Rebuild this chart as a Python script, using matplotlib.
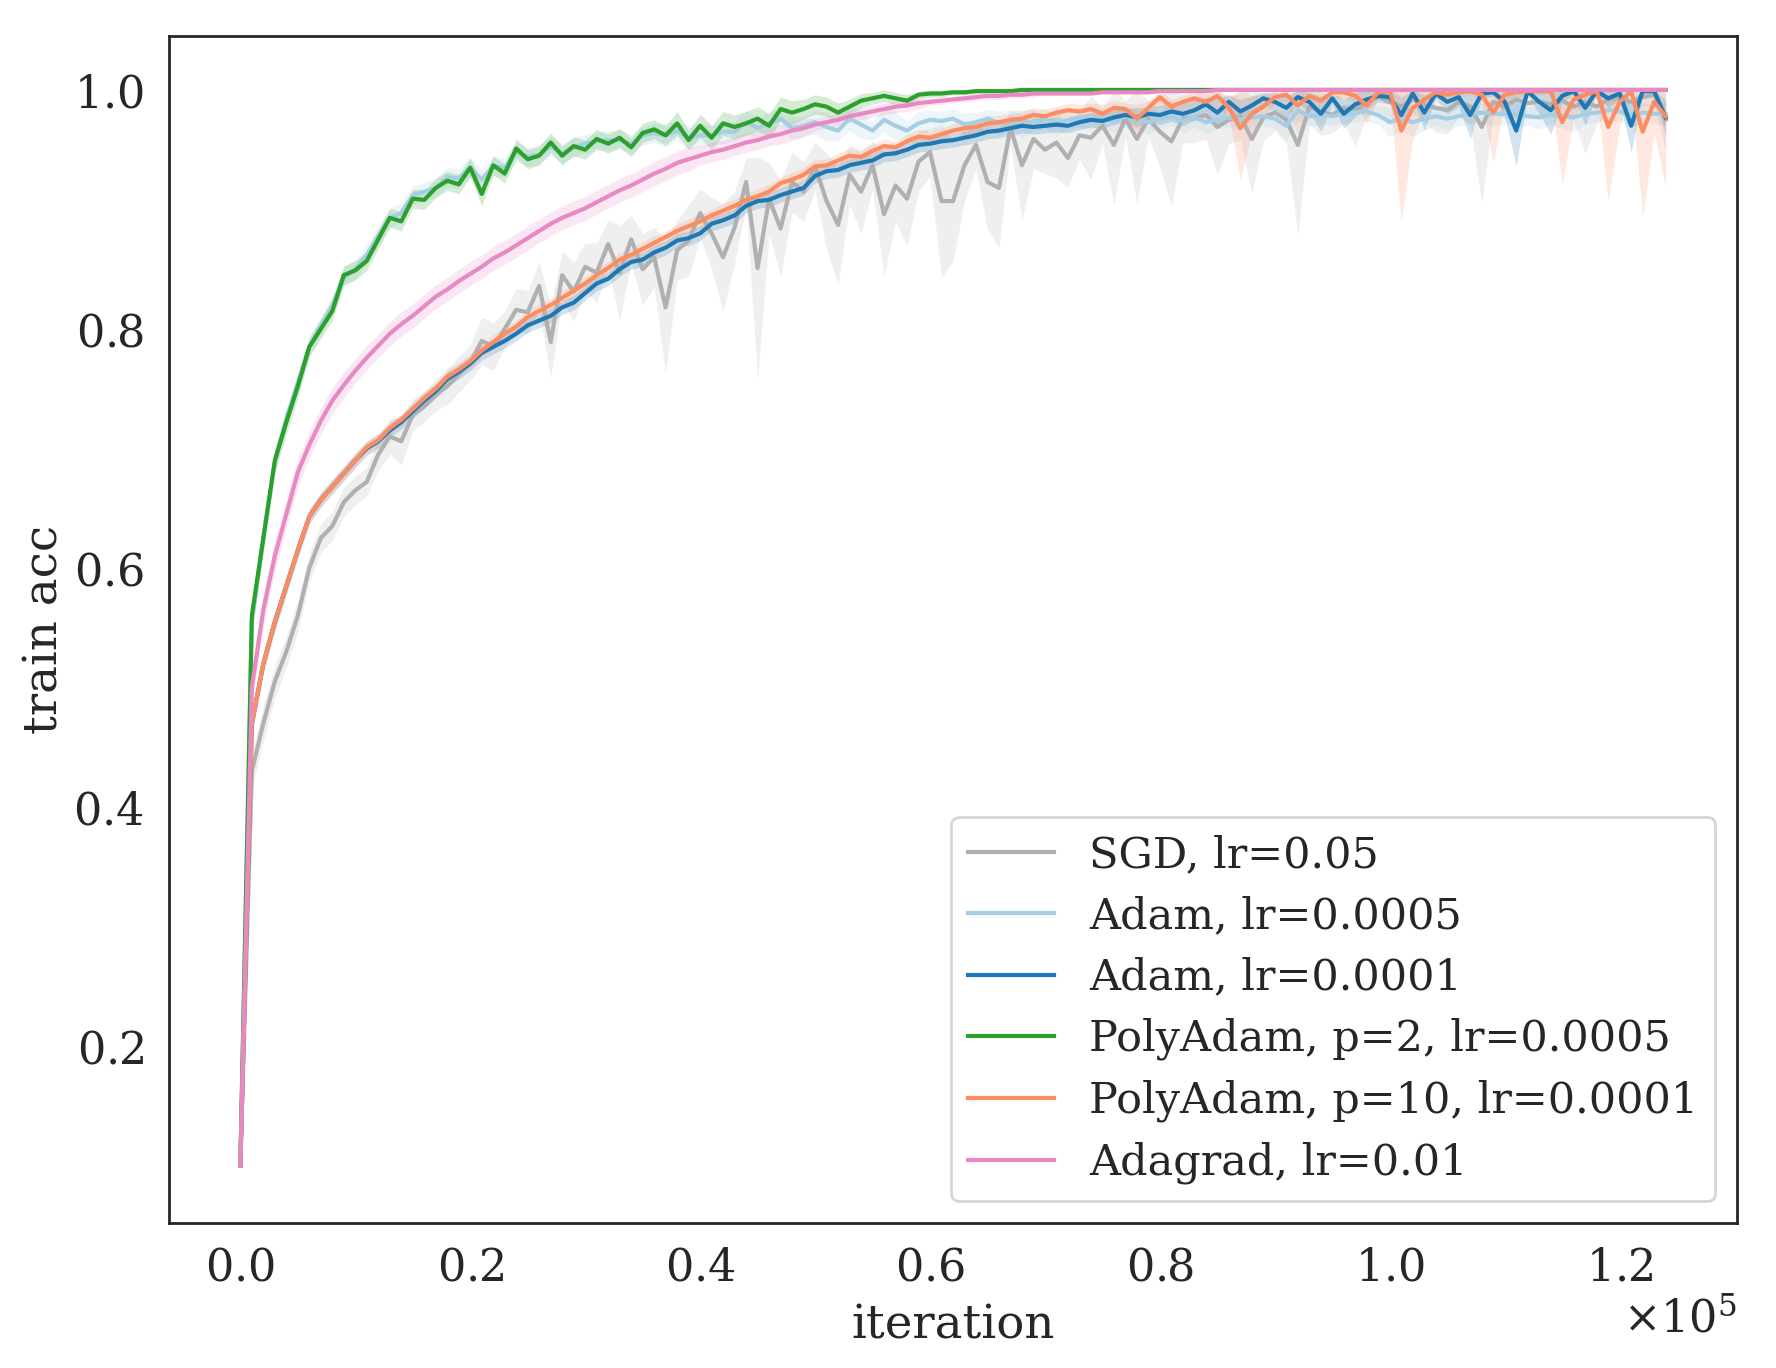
import numpy as np
import matplotlib as mpl
mpl.use('Agg')
from matplotlib import pyplot as plt

# iterations (every 1000 steps)
iters = np.arange(0, 125000, 1000)

# mean train acc
sgd = [0.100, 0.430, 0.470, 0.505, 0.530, 0.560, 0.600, 0.625, 0.635, 0.655,
       0.665, 0.672, 0.695, 0.710, 0.706, 0.728, 0.735, 0.745, 0.752, 0.762,
       0.772, 0.790, 0.785, 0.800, 0.816, 0.814, 0.836, 0.789, 0.845, 0.831,
       0.852, 0.847, 0.871, 0.847, 0.875, 0.850, 0.860, 0.818, 0.866, 0.874,
       0.897, 0.880, 0.860, 0.885, 0.923, 0.851, 0.909, 0.884, 0.923, 0.915,
       0.936, 0.907, 0.887, 0.929, 0.915, 0.937, 0.896, 0.920, 0.909, 0.940,
       0.948, 0.907, 0.907, 0.937, 0.954, 0.923, 0.918, 0.968, 0.937, 0.959,
       0.950, 0.956, 0.943, 0.962, 0.960, 0.970, 0.954, 0.976, 0.959, 0.976,
       0.965, 0.957, 0.976, 0.976, 0.979, 0.969, 0.975, 0.978, 0.959, 0.977,
       0.981, 0.975, 0.954, 0.986, 0.982, 0.979, 0.985, 0.983, 0.990, 0.994,
       0.990, 0.986, 0.992, 0.988, 0.985, 0.983, 0.990, 0.986, 0.969, 0.990,
       0.986, 0.992, 0.989, 0.990, 0.988, 0.991, 0.986, 0.990, 0.986, 0.992,
       0.993, 0.990, 0.994, 0.996, 0.975]
adam_5e4 = [0.100, 0.555, 0.625, 0.688, 0.725, 0.755, 0.785, 0.803, 0.820, 0.843,
            0.850, 0.862, 0.878, 0.893, 0.897, 0.912, 0.915, 0.918, 0.927, 0.926,
            0.935, 0.925, 0.936, 0.935, 0.948, 0.944, 0.946, 0.953, 0.947, 0.952,
            0.955, 0.957, 0.958, 0.958, 0.955, 0.962, 0.964, 0.962, 0.966, 0.960,
            0.962, 0.962, 0.965, 0.965, 0.973, 0.968, 0.972, 0.976, 0.968, 0.970,
            0.973, 0.969, 0.966, 0.976, 0.971, 0.966, 0.975, 0.970, 0.966, 0.972,
            0.975, 0.974, 0.976, 0.971, 0.973, 0.976, 0.972, 0.975, 0.970, 0.974,
            0.976, 0.972, 0.975, 0.977, 0.975, 0.977, 0.974, 0.978, 0.975, 0.973,
            0.976, 0.978, 0.974, 0.977, 0.973, 0.975, 0.977, 0.975, 0.977, 0.978,
            0.976, 0.970, 0.983, 0.978, 0.979, 0.978, 0.980, 0.981, 0.982, 0.979,
            0.973, 0.976, 0.973, 0.976, 0.978, 0.976, 0.978, 0.980, 0.981, 0.980,
            0.980, 0.979, 0.978, 0.977, 0.979, 0.978, 0.977, 0.980, 0.981, 0.983,
            0.982, 0.979, 0.981, 0.980, 0.980]
adam_1e4 = [0.100, 0.470, 0.520, 0.555, 0.585, 0.615, 0.643, 0.657, 0.668, 0.679,
            0.690, 0.700, 0.706, 0.715, 0.722, 0.731, 0.740, 0.748, 0.758, 0.764,
            0.771, 0.780, 0.785, 0.790, 0.796, 0.803, 0.807, 0.811, 0.818, 0.822,
            0.830, 0.838, 0.842, 0.850, 0.856, 0.858, 0.864, 0.868, 0.874, 0.876,
            0.880, 0.888, 0.891, 0.895, 0.903, 0.907, 0.908, 0.912, 0.915, 0.918,
            0.928, 0.932, 0.933, 0.937, 0.939, 0.941, 0.946, 0.947, 0.950, 0.954,
            0.955, 0.957, 0.958, 0.960, 0.962, 0.965, 0.966, 0.968, 0.970, 0.969,
            0.970, 0.971, 0.970, 0.973, 0.975, 0.974, 0.977, 0.979, 0.977, 0.980,
            0.979, 0.982, 0.980, 0.983, 0.988, 0.981, 0.990, 0.982, 0.987, 0.993,
            0.990, 0.985, 0.994, 0.990, 0.980, 0.993, 0.980, 0.988, 0.992, 0.995,
            0.994, 0.979, 0.997, 0.981, 0.997, 0.990, 0.994, 0.979, 0.997, 0.998,
            0.990, 0.966, 0.999, 0.990, 0.983, 0.995, 0.999, 0.985, 0.999, 0.993,
            0.997, 0.970, 0.999, 0.999, 0.977]
poly_p2 = [0.100, 0.560, 0.625, 0.690, 0.722, 0.752, 0.785, 0.800, 0.815, 0.845,
           0.849, 0.857, 0.875, 0.893, 0.890, 0.909, 0.908, 0.918, 0.924, 0.921,
           0.935, 0.913, 0.937, 0.930, 0.951, 0.942, 0.945, 0.956, 0.945, 0.953,
           0.950, 0.959, 0.955, 0.960, 0.952, 0.964, 0.967, 0.962, 0.972, 0.958,
           0.970, 0.960, 0.972, 0.969, 0.972, 0.976, 0.970, 0.984, 0.981, 0.984,
           0.988, 0.986, 0.981, 0.986, 0.991, 0.993, 0.995, 0.993, 0.991, 0.996,
           0.997, 0.997, 0.998, 0.998, 0.999, 0.999, 0.999, 0.999, 1.000, 1.000,
           1.000, 1.000, 1.000, 1.000, 1.000, 1.000, 1.000, 1.000, 1.000, 1.000,
           1.000, 1.000, 1.000, 1.000, 1.000, 1.000, 1.000, 1.000, 1.000, 1.000,
           1.000, 1.000, 1.000, 1.000, 1.000, 1.000, 1.000, 1.000, 1.000, 1.000,
           1.000, 1.000, 1.000, 1.000, 1.000, 1.000, 1.000, 1.000, 1.000, 1.000,
           1.000, 1.000, 1.000, 1.000, 1.000, 1.000, 1.000, 1.000, 1.000, 1.000,
           1.000, 1.000, 1.000, 1.000, 1.000]
poly_p10 = [0.100, 0.470, 0.520, 0.555, 0.585, 0.615, 0.643, 0.657, 0.668, 0.679,
            0.690, 0.701, 0.707, 0.717, 0.724, 0.733, 0.742, 0.750, 0.760, 0.766,
            0.773, 0.782, 0.789, 0.796, 0.802, 0.810, 0.815, 0.820, 0.826, 0.832,
            0.838, 0.845, 0.851, 0.858, 0.862, 0.867, 0.872, 0.877, 0.882, 0.886,
            0.890, 0.895, 0.899, 0.903, 0.908, 0.911, 0.915, 0.922, 0.925, 0.929,
            0.936, 0.937, 0.941, 0.945, 0.944, 0.949, 0.953, 0.952, 0.957, 0.961,
            0.960, 0.963, 0.966, 0.968, 0.969, 0.972, 0.973, 0.975, 0.976, 0.979,
            0.978, 0.981, 0.983, 0.982, 0.984, 0.980, 0.985, 0.984, 0.976, 0.985,
            0.994, 0.986, 0.990, 0.993, 0.990, 0.995, 0.985, 0.968, 0.980, 0.986,
            0.994, 0.996, 0.987, 0.995, 0.991, 0.998, 0.998, 0.995, 0.987, 0.998,
            0.999, 0.966, 0.985, 0.992, 0.998, 0.996, 0.998, 0.999, 0.996, 0.981,
            0.996, 0.998, 0.999, 0.999, 0.999, 0.973, 0.992, 0.996, 0.999, 0.969,
            0.990, 0.999, 0.965, 0.990, 0.978]
adagrad = [0.100, 0.500, 0.565, 0.610, 0.645, 0.680, 0.703, 0.723, 0.740, 0.753,
           0.765, 0.776, 0.786, 0.796, 0.804, 0.811, 0.819, 0.827, 0.833, 0.840,
           0.846, 0.852, 0.859, 0.864, 0.870, 0.876, 0.882, 0.888, 0.893, 0.897,
           0.901, 0.906, 0.911, 0.916, 0.920, 0.925, 0.930, 0.934, 0.939, 0.942,
           0.945, 0.948, 0.950, 0.953, 0.956, 0.958, 0.961, 0.963, 0.966, 0.968,
           0.971, 0.973, 0.975, 0.978, 0.980, 0.982, 0.984, 0.986, 0.987, 0.989,
           0.990, 0.991, 0.992, 0.993, 0.994, 0.995, 0.995, 0.996, 0.996, 0.997,
           0.997, 0.997, 0.997, 0.997, 0.997, 0.998, 0.998, 0.998, 0.998, 0.998,
           0.999, 0.999, 0.999, 0.999, 0.999, 1.000, 1.000, 1.000, 1.000, 1.000,
           1.000, 1.000, 1.000, 1.000, 1.000, 1.000, 1.000, 1.000, 1.000, 1.000,
           1.000, 1.000, 1.000, 1.000, 1.000, 1.000, 1.000, 1.000, 1.000, 1.000,
           1.000, 1.000, 1.000, 1.000, 1.000, 1.000, 1.000, 1.000, 1.000, 1.000,
           1.000, 1.000, 1.000, 1.000, 1.000]

# spread over seeds (std)
sgd_sd = [0.003, 0.015, 0.015, 0.014, 0.013, 0.013, 0.012, 0.012, 0.012, 0.012,
          0.012, 0.012, 0.013, 0.015, 0.020, 0.013, 0.013, 0.013, 0.015, 0.015,
          0.015, 0.020, 0.020, 0.015, 0.018, 0.018, 0.020, 0.030, 0.020, 0.025,
          0.020, 0.025, 0.020, 0.040, 0.020, 0.030, 0.025, 0.055, 0.025, 0.030,
          0.020, 0.030, 0.045, 0.030, 0.020, 0.093, 0.030, 0.040, 0.025, 0.025,
          0.020, 0.040, 0.050, 0.025, 0.035, 0.020, 0.052, 0.030, 0.040, 0.025,
          0.020, 0.064, 0.050, 0.030, 0.020, 0.040, 0.050, 0.015, 0.046, 0.025,
          0.020, 0.030, 0.024, 0.020, 0.035, 0.015, 0.050, 0.015, 0.055, 0.015,
          0.030, 0.054, 0.020, 0.020, 0.020, 0.040, 0.020, 0.020, 0.045, 0.020,
          0.015, 0.020, 0.076, 0.015, 0.020, 0.015, 0.013, 0.030, 0.012, 0.012,
          0.015, 0.015, 0.012, 0.015, 0.020, 0.020, 0.012, 0.015, 0.064, 0.010,
          0.010, 0.015, 0.010, 0.012, 0.010, 0.012, 0.012, 0.043, 0.015, 0.010,
          0.008, 0.010, 0.008, 0.008, 0.025]
adam_5e4_sd = [0.003, 0.010, 0.010, 0.008, 0.008, 0.008, 0.008, 0.008, 0.008, 0.008,
               0.008, 0.008, 0.008, 0.008, 0.008, 0.008, 0.008, 0.008, 0.008, 0.008,
               0.008, 0.008, 0.008, 0.008, 0.008, 0.008, 0.008, 0.008, 0.008, 0.008,
               0.008, 0.008, 0.008, 0.008, 0.008, 0.008, 0.008, 0.010, 0.008, 0.010,
               0.010, 0.008, 0.010, 0.008, 0.010, 0.008, 0.010, 0.008, 0.010, 0.008,
               0.010, 0.012, 0.008, 0.010, 0.012, 0.008, 0.010, 0.012, 0.008, 0.010,
               0.008, 0.008, 0.008, 0.010, 0.008, 0.008, 0.010, 0.008, 0.010, 0.008,
               0.008, 0.010, 0.008, 0.008, 0.008, 0.008, 0.010, 0.008, 0.008, 0.010,
               0.008, 0.008, 0.010, 0.008, 0.010, 0.008, 0.008, 0.008, 0.008, 0.008,
               0.008, 0.012, 0.008, 0.008, 0.008, 0.008, 0.008, 0.008, 0.008, 0.008,
               0.012, 0.010, 0.012, 0.010, 0.008, 0.010, 0.008, 0.008, 0.008, 0.010,
               0.008, 0.010, 0.008, 0.010, 0.008, 0.010, 0.012, 0.008, 0.008, 0.008,
               0.008, 0.010, 0.008, 0.008, 0.010]
adam_1e4_sd = [0.003, 0.010, 0.008, 0.008, 0.007, 0.007, 0.006, 0.006, 0.006, 0.006,
               0.006, 0.006, 0.006, 0.006, 0.006, 0.006, 0.006, 0.006, 0.006, 0.006,
               0.006, 0.006, 0.006, 0.006, 0.006, 0.006, 0.006, 0.006, 0.006, 0.006,
               0.006, 0.006, 0.006, 0.006, 0.006, 0.006, 0.006, 0.006, 0.006, 0.006,
               0.006, 0.006, 0.006, 0.006, 0.006, 0.006, 0.006, 0.006, 0.006, 0.006,
               0.006, 0.006, 0.006, 0.006, 0.006, 0.006, 0.006, 0.006, 0.006, 0.006,
               0.006, 0.006, 0.006, 0.006, 0.006, 0.006, 0.006, 0.006, 0.006, 0.006,
               0.006, 0.006, 0.006, 0.006, 0.006, 0.006, 0.006, 0.006, 0.008, 0.006,
               0.008, 0.008, 0.010, 0.008, 0.006, 0.012, 0.006, 0.010, 0.008, 0.005,
               0.008, 0.010, 0.005, 0.008, 0.015, 0.005, 0.012, 0.010, 0.008, 0.005,
               0.006, 0.015, 0.004, 0.015, 0.004, 0.010, 0.008, 0.020, 0.004, 0.003,
               0.012, 0.030, 0.003, 0.010, 0.020, 0.006, 0.003, 0.015, 0.003, 0.008,
               0.005, 0.022, 0.003, 0.003, 0.015]
poly_p2_sd = [0.003, 0.012, 0.012, 0.010, 0.010, 0.010, 0.008, 0.008, 0.008, 0.008,
              0.008, 0.008, 0.008, 0.008, 0.008, 0.008, 0.008, 0.008, 0.008, 0.008,
              0.008, 0.010, 0.008, 0.008, 0.008, 0.008, 0.008, 0.008, 0.008, 0.008,
              0.008, 0.008, 0.008, 0.008, 0.008, 0.008, 0.008, 0.008, 0.010, 0.008,
              0.010, 0.010, 0.010, 0.010, 0.010, 0.010, 0.010, 0.010, 0.010, 0.008,
              0.008, 0.008, 0.008, 0.006, 0.006, 0.005, 0.005, 0.005, 0.005, 0.003,
              0.003, 0.003, 0.002, 0.002, 0.002, 0.001, 0.001, 0.001, 0.001, 0.001,
              0.001, 0.001, 0.001, 0.001, 0.001, 0.001, 0.001, 0.001, 0.001, 0.001,
              0.001, 0.001, 0.001, 0.001, 0.001, 0.001, 0.001, 0.001, 0.001, 0.001,
              0.001, 0.001, 0.001, 0.001, 0.001, 0.001, 0.001, 0.001, 0.001, 0.001,
              0.001, 0.001, 0.001, 0.001, 0.001, 0.001, 0.001, 0.001, 0.001, 0.001,
              0.001, 0.001, 0.001, 0.001, 0.001, 0.001, 0.001, 0.001, 0.001, 0.001,
              0.001, 0.001, 0.001, 0.001, 0.001]
poly_p10_sd = [0.003, 0.010, 0.008, 0.008, 0.007, 0.007, 0.006, 0.006, 0.006, 0.006,
               0.006, 0.005, 0.006, 0.006, 0.005, 0.006, 0.006, 0.005, 0.006, 0.006,
               0.006, 0.005, 0.006, 0.006, 0.005, 0.006, 0.006, 0.005, 0.006, 0.006,
               0.006, 0.005, 0.006, 0.006, 0.005, 0.006, 0.006, 0.005, 0.006, 0.006,
               0.006, 0.005, 0.006, 0.006, 0.005, 0.006, 0.006, 0.005, 0.006, 0.006,
               0.006, 0.005, 0.006, 0.006, 0.005, 0.006, 0.006, 0.005, 0.006, 0.006,
               0.006, 0.005, 0.006, 0.006, 0.005, 0.006, 0.006, 0.005, 0.006, 0.006,
               0.006, 0.005, 0.006, 0.006, 0.005, 0.008, 0.006, 0.005, 0.012, 0.006,
               0.008, 0.006, 0.006, 0.008, 0.006, 0.010, 0.008, 0.043, 0.015, 0.010,
               0.005, 0.005, 0.025, 0.004, 0.012, 0.004, 0.005, 0.006, 0.015, 0.004,
               0.003, 0.076, 0.025, 0.010, 0.004, 0.006, 0.004, 0.003, 0.006, 0.042,
               0.006, 0.004, 0.003, 0.003, 0.003, 0.052, 0.015, 0.006, 0.003, 0.062,
               0.020, 0.003, 0.071, 0.025, 0.060]
adagrad_sd = [0.003, 0.015, 0.014, 0.013, 0.012, 0.012, 0.011, 0.011, 0.011, 0.011,
              0.010, 0.010, 0.010, 0.010, 0.010, 0.010, 0.010, 0.010, 0.010, 0.010,
              0.010, 0.010, 0.010, 0.010, 0.010, 0.010, 0.010, 0.010, 0.010, 0.010,
              0.010, 0.010, 0.010, 0.010, 0.010, 0.010, 0.010, 0.010, 0.010, 0.010,
              0.008, 0.008, 0.008, 0.008, 0.008, 0.008, 0.008, 0.008, 0.008, 0.008,
              0.005, 0.005, 0.005, 0.005, 0.005, 0.005, 0.005, 0.005, 0.005, 0.005,
              0.003, 0.003, 0.003, 0.003, 0.003, 0.003, 0.003, 0.003, 0.003, 0.003,
              0.001, 0.001, 0.001, 0.001, 0.001, 0.001, 0.001, 0.001, 0.001, 0.001,
              0.001, 0.001, 0.001, 0.001, 0.001, 0.001, 0.001, 0.001, 0.001, 0.001,
              0.001, 0.001, 0.001, 0.001, 0.001, 0.001, 0.001, 0.001, 0.001, 0.001,
              0.001, 0.001, 0.001, 0.001, 0.001, 0.001, 0.001, 0.001, 0.001, 0.001,
              0.001, 0.001, 0.001, 0.001, 0.001, 0.001, 0.001, 0.001, 0.001, 0.001,
              0.001, 0.001, 0.001, 0.001, 0.001]

labels = ['SGD, lr=0.05', 'Adam, lr=0.0005', 'Adam, lr=0.0001',
          'PolyAdam, p=2, lr=0.0005', 'PolyAdam, p=10, lr=0.0001', 'Adagrad, lr=0.01']
colors = ['#b0b0b0', '#a6cee3', '#1f78b4', '#2ca02c', '#fc8d62', '#e78ac3']
means = [sgd, adam_5e4, adam_1e4, poly_p2, poly_p10, adagrad]
sds = [sgd_sd, adam_5e4_sd, adam_1e4_sd, poly_p2_sd, poly_p10_sd, adagrad_sd]

plt.rcParams['font.family'] = 'serif'
plt.rcParams['font.serif'] = ['DejaVu Serif']
plt.rcParams['mathtext.fontset'] = 'dejavuserif'
plt.rcParams['axes.formatter.use_mathtext'] = True
plt.rcParams['text.color'] = '#262626'
plt.rcParams['axes.labelcolor'] = '#262626'
plt.rcParams['xtick.color'] = '#262626'
plt.rcParams['ytick.color'] = '#262626'

fig = plt.figure(figsize=(8.88, 6.84), dpi=200)
ax = fig.add_axes([0.0952, 0.106, 0.8828, 0.8677])

for m, s, c, lab in zip(means, sds, colors, labels):
    m = np.array(m)
    s = np.array(s)
    ax.plot(iters, m, color=c, lw=1.5, label=lab)
    ax.fill_between(iters, m - s, np.minimum(m + s, 1.0), color=c, alpha=0.2, lw=0)

for sp in ax.spines.values():
    sp.set_color('#262626')
    sp.set_linewidth(1.0)

ax.ticklabel_format(axis='x', style='sci', scilimits=(0, 0), useMathText=True)
ax.tick_params(axis='both', length=0, labelsize=16)
ax.tick_params(axis='x', pad=8.5)
ax.tick_params(axis='y', pad=9)
ax.xaxis.get_offset_text().set_fontsize(16)
ax.set_xlabel('iteration', fontsize=16.8, labelpad=5)
ax.set_ylabel('train acc', fontsize=16.8, labelpad=2)

leg = ax.legend(loc='lower right', fontsize=15.5, frameon=True, fancybox=True,
                labelspacing=0.45)
leg.get_frame().set_edgecolor('0.8')

fig.savefig('out.png', dpi=200)
